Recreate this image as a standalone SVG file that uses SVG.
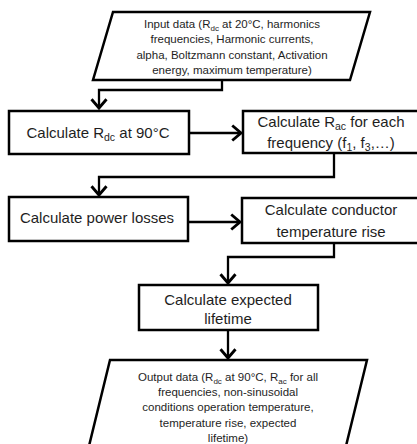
<svg xmlns="http://www.w3.org/2000/svg" width="417" height="444" viewBox="0 0 417 444">
<style>
.shape{fill:#fff;stroke:#000;stroke-width:2.5}
.conn{fill:none;stroke:#000;stroke-width:2.3}
text{font-family:"Liberation Sans",Arial,sans-serif;fill:#1e1e1e;text-anchor:middle}
.big{font-size:15px}
.small{font-size:11.5px}
</style>
<defs>
<marker id="arr" markerUnits="userSpaceOnUse" markerWidth="20" markerHeight="20" viewBox="-10 -8 12 16" refX="0" refY="0" orient="auto">
<path d="M-7,-6 L0,0 L-7,6" fill="none" stroke="#000" stroke-width="2.3"/>
</marker>
</defs>
<rect width="417" height="444" fill="#fff"/>
<g id="connectors">
<path class="conn" d="M222,80 V90 H99 V108" marker-end="url(#arr)"/>
<path class="conn" d="M189,133 H241" marker-end="url(#arr)"/>
<path class="conn" d="M334,153 V177 H99 V195" marker-end="url(#arr)"/>
<path class="conn" d="M188,222 H240" marker-end="url(#arr)"/>
<path class="conn" d="M334,243 V257 H228 V283" marker-end="url(#arr)"/>
<path class="conn" d="M228,330 V358" marker-end="url(#arr)"/>
</g>
<g id="input">
<polygon class="shape" points="113,12 370,12 350,80 93,80"/>
<text class="small" x="232" y="28">Input data (R<tspan font-size="8" dy="2.5">dc</tspan><tspan dy="-2.5"> at 20°C, harmonics</tspan></text>
<text class="small" x="232" y="43">frequencies, Harmonic currents,</text>
<text class="small" x="232" y="59">alpha, Boltzmann constant, Activation</text>
<text class="small" x="232" y="74">energy, maximum temperature)</text>
</g>
<g id="rdc">
<rect class="shape" x="9" y="111" width="180" height="43"/>
<text class="big" x="98" y="138">Calculate R<tspan font-size="10.5" dy="3">dc</tspan><tspan dy="-3"> at 90°C</tspan></text>
</g>
<g id="rac">
<rect class="shape" x="243" y="111" width="180" height="42"/>
<text class="big" x="331" y="127">Calculate R<tspan font-size="10.5" dy="3">ac</tspan><tspan dy="-3"> for each</tspan></text>
<text class="big" x="331" y="148">frequency (f<tspan font-size="10.5" dy="3">1</tspan><tspan dy="-3">, f</tspan><tspan font-size="10.5" dy="3">3</tspan><tspan dy="-3">,…)</tspan></text>
</g>
<g id="losses">
<rect class="shape" x="9" y="197" width="179" height="44"/>
<text class="big" x="97" y="223">Calculate power losses</text>
</g>
<g id="rise">
<rect class="shape" x="242" y="198" width="181" height="45"/>
<text class="big" x="331" y="215">Calculate conductor</text>
<text class="big" x="331" y="237">temperature rise</text>
</g>
<g id="lifetime">
<rect class="shape" x="139" y="285" width="179" height="45"/>
<text class="big" x="228" y="305">Calculate expected</text>
<text class="big" x="228" y="324">lifetime</text>
</g>
<g id="output">
<polygon class="shape" points="110,360 367,360 346,446 89,446"/>
<text class="small" x="228" y="381">Output data (R<tspan font-size="8" dy="2.5">dc</tspan><tspan dy="-2.5"> at 90°C, R</tspan><tspan font-size="8" dy="2.5">ac</tspan><tspan dy="-2.5"> for all</tspan></text>
<text class="small" x="228" y="396">frequencies, non-sinusoidal</text>
<text class="small" x="228" y="411">conditions operation temperature,</text>
<text class="small" x="228" y="427">temperature rise, expected</text>
<text class="small" x="228" y="442">lifetime)</text>
</g>
</svg>
